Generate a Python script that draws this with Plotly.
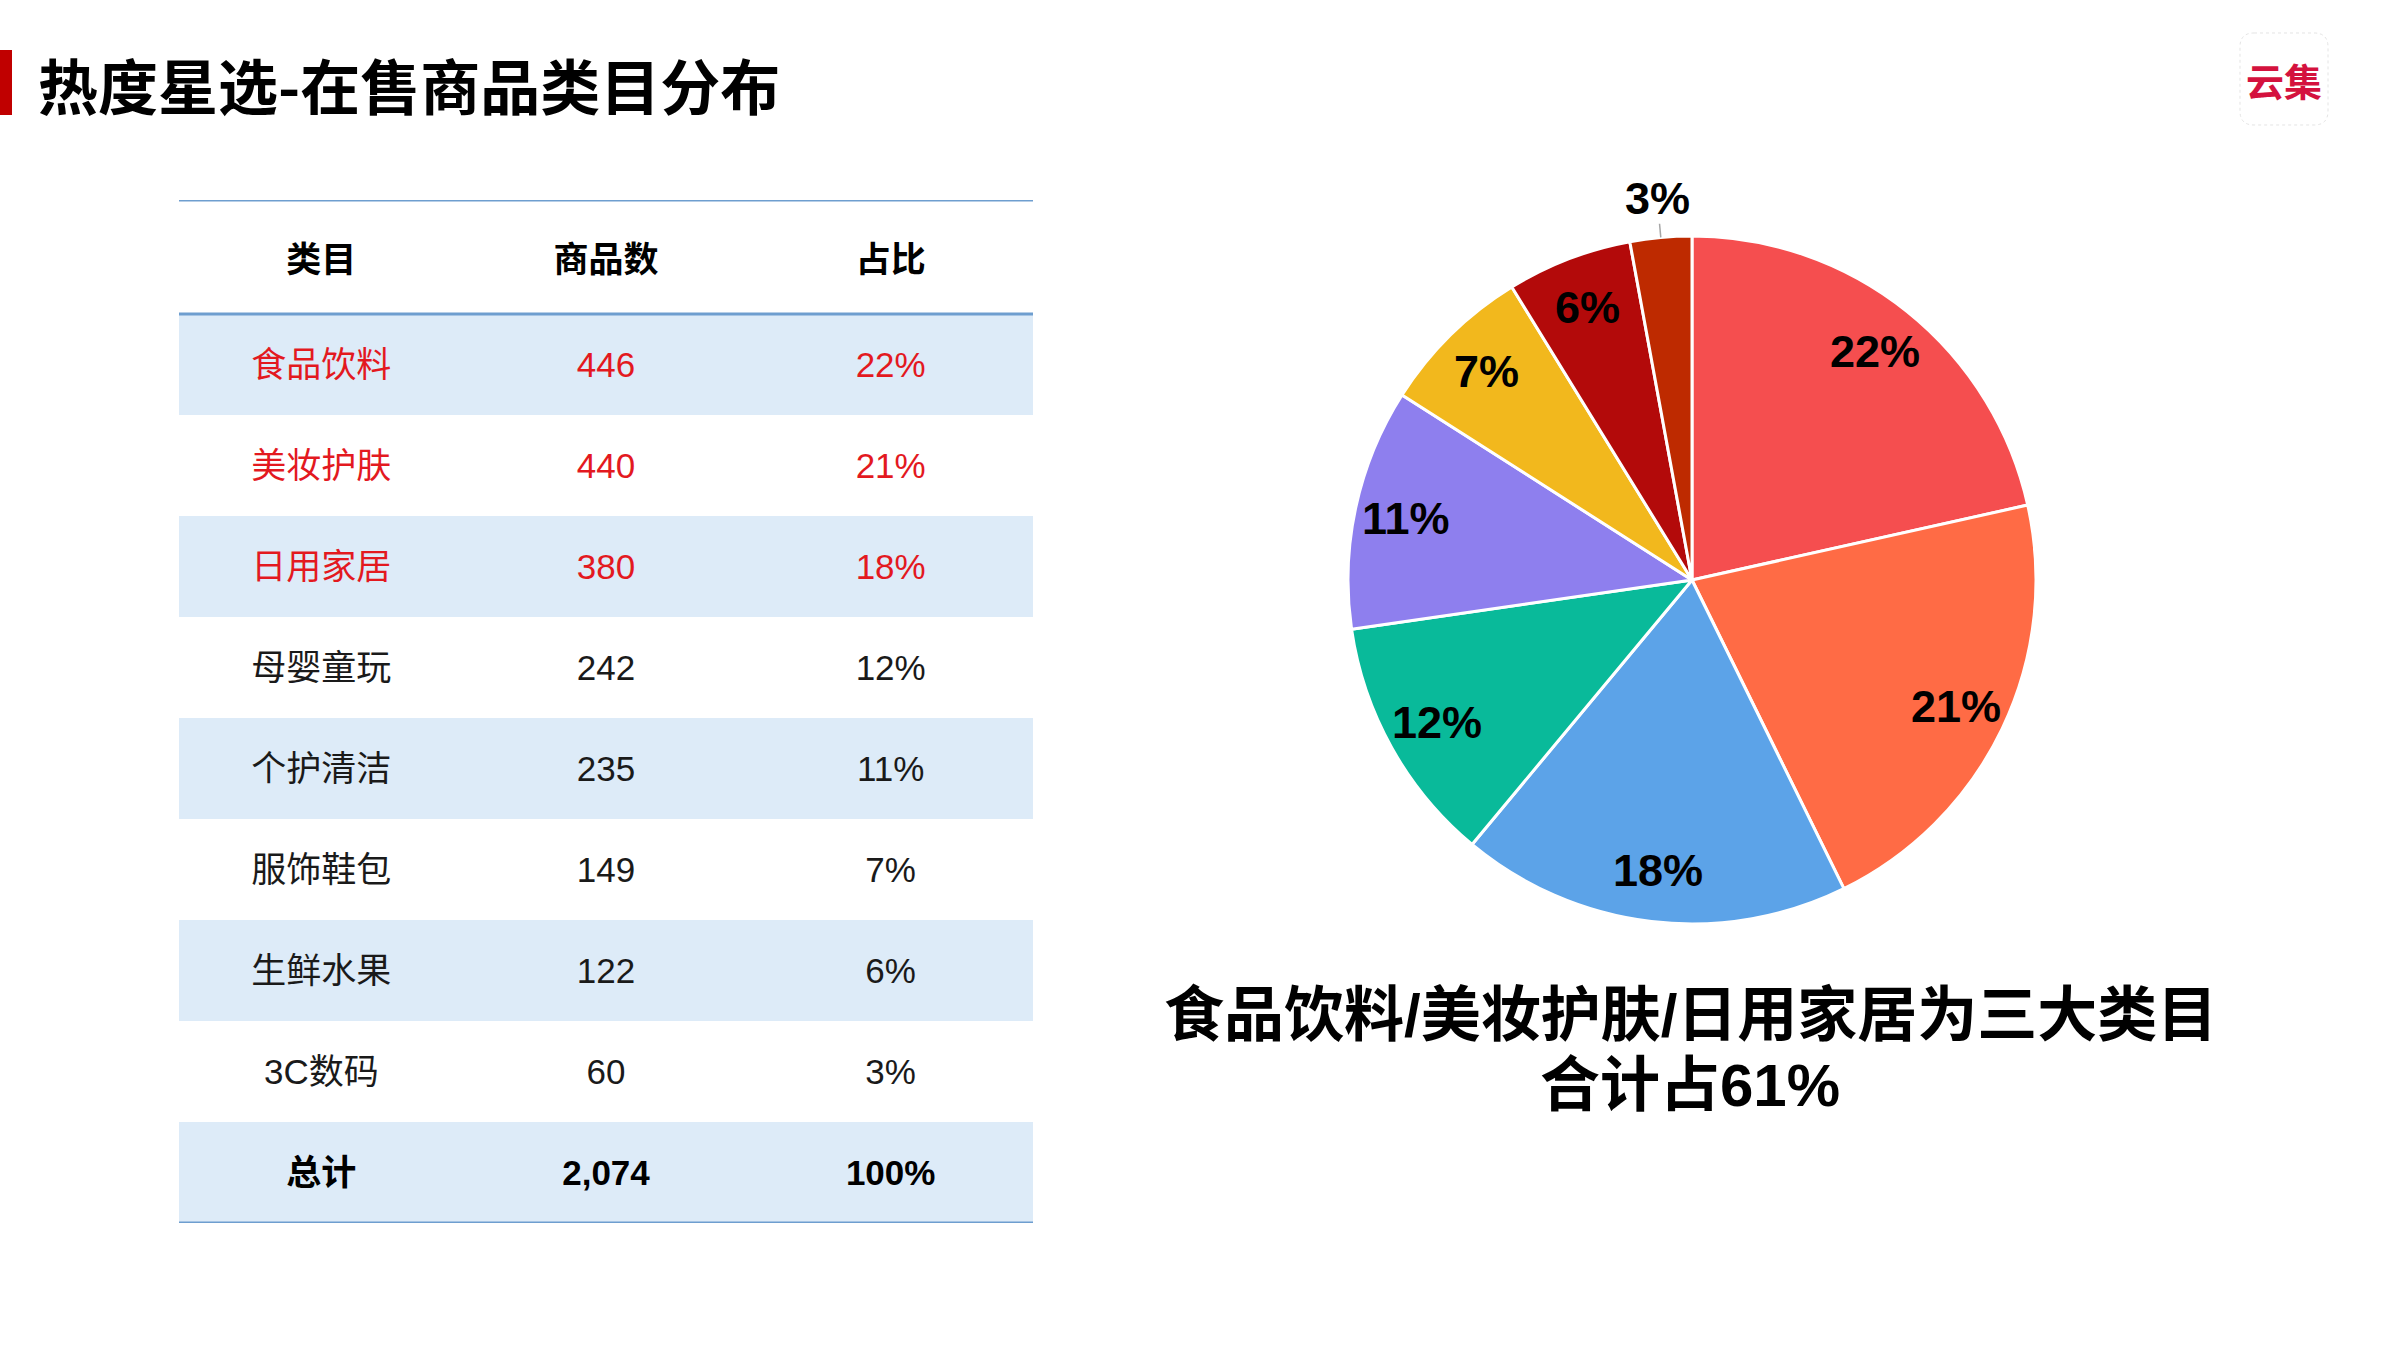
import numpy as np
import plotly.graph_objects as go

# ---------------- data ----------------
title_text = "热度星选-在售商品类目分布"
headers = ["类目", "商品数", "占比"]
categories = ["食品饮料", "美妆护肤", "日用家居", "母婴童玩", "个护清洁", "服饰鞋包", "生鲜水果", "3C数码"]
counts = [446, 440, 380, 242, 235, 149, 122, 60]
shares = ["22%", "21%", "18%", "12%", "11%", "7%", "6%", "3%"]
total_row = ["总计", "2,074", "100%"]
top_n = 3
slice_colors = ["#F54E4F", "#FF6B45", "#5CA3E8", "#09BA9A", "#8E7FEE", "#F2B81D", "#B30A0A", "#BE2A00"]
summary_lines = ["食品饮料/美妆护肤/日用家居为三大类目", "合计占61%"]
logo_text = "云集"

# ---------------- page geometry ----------------
W, H = 2400, 1350
def px(x):
    return x / W
def py(y):
    return 1 - y / H

LATIN_CJK = "Liberation Sans, Arial, Noto Sans CJK SC, sans-serif"
CJK = "Noto Sans CJK SC, Liberation Sans, sans-serif"

fig = go.Figure()

# ---------------- table (hidden axes x / y) ----------------
TX0, TX1, TY0 = 179, 1033, 200
HEADER_H, ROW_H = 114, 101
n_rows = len(categories) + 1
TY1 = TY0 + HEADER_H + ROW_H * n_rows
hdr = HEADER_H / ROW_H
hdr_nudge = 6 / ROW_H   # small optical nudges for text baseline
row_nudge = 4 / ROW_H

rows = [[c, str(v), s] for c, v, s in zip(categories, counts, shares)]
tx, ty, tt, tc = [], [], [], []
for j, h in enumerate(headers):
    tx.append(j + 0.5); ty.append(-hdr / 2 + hdr_nudge); tt.append(f"<b>{h}</b>"); tc.append("#000000")
for i, r in enumerate(rows):
    col = "#E3191F" if i < top_n else "#1a1a1a"
    for j, v in enumerate(r):
        tx.append(j + 0.5); ty.append(i + 0.5 + row_nudge); tt.append(v); tc.append(col)
for j, v in enumerate(total_row):
    tx.append(j + 0.5); ty.append(len(rows) + 0.5 + row_nudge); tt.append(f"<b>{v}</b>"); tc.append("#000000")

fig.add_trace(go.Scatter(
    x=tx, y=ty, text=tt, mode="text", textposition="middle center",
    textfont=dict(size=35, color=tc, family=LATIN_CJK),
    hoverinfo="skip", showlegend=False, xaxis="x", yaxis="y"))

shapes = []
for i in range(n_rows):
    if i % 2 == 0:
        shapes.append(dict(type="rect", xref="x", yref="y", x0=0, x1=3, y0=i, y1=i + 1,
                           fillcolor="#DDEBF8", line=dict(width=0), layer="below"))
for yl in [-hdr, 0, n_rows]:
    shapes.append(dict(type="line", xref="x", yref="y", x0=0, x1=3, y0=yl, y1=yl,
                       line=dict(color="#6E9ECF", width=3), layer="above"))

# ---------------- pie ----------------
PCX, PCY, PR = 1692, 580, 344
fig.add_trace(go.Pie(
    values=counts, labels=categories, sort=False, direction="clockwise", rotation=0,
    marker=dict(colors=slice_colors, line=dict(color="#FFFFFF", width=3)),
    textinfo="none", hoverinfo="label+value+percent", showlegend=False,
    domain=dict(x=[px(PCX - PR), px(PCX + PR)], y=[py(PCY + PR), py(PCY - PR)])))

# labels placed on a hidden axis pair (unit = pie radius) overlaying the pie
EXT = 1.25
vals = np.array(counts, dtype=float)
frac = vals / vals.sum()
mid = (np.cumsum(frac) - frac / 2) * 2 * np.pi
annotations = []
for k, (m, s) in enumerate(zip(mid, shares)):
    outside = frac[k] <= 0.04
    r = 1.115 if outside else 0.85
    annotations.append(dict(x=r * np.sin(m), y=r * np.cos(m), xref="x2", yref="y2",
                            text=f"<b>{s}</b>", showarrow=False,
                            font=dict(size=45, color="#000000", family=LATIN_CJK),
                            xanchor="center", yanchor="middle"))
    if outside:
        shapes.append(dict(type="line", xref="x2", yref="y2",
                           x0=1.0 * np.sin(m), y0=1.0 * np.cos(m),
                           x1=1.04 * np.sin(m), y1=1.04 * np.cos(m),
                           line=dict(color="#A6A6A6", width=1.5), layer="above"))

# ---------------- title, logo, summary ----------------
shapes.append(dict(type="rect", xref="paper", yref="paper", x0=0, x1=px(12), y0=py(115), y1=py(50),
                   fillcolor="#C00000", line=dict(width=0)))
annotations.append(dict(x=px(36), y=py(84), xref="paper", yref="paper", text=f"<b>{title_text}</b>",
                        showarrow=False, xanchor="left", yanchor="middle",
                        font=dict(size=60, color="#000000", family=CJK)))

# logo rounded square
lx0, lx1, ly0, ly1, rr = 2240, 2328, 33, 125, 14
def P(x, y):
    return f"{px(x):.5f},{py(y):.5f}"
path = (f"M {P(lx0+rr, ly0)} L {P(lx1-rr, ly0)} Q {P(lx1, ly0)} {P(lx1, ly0+rr)} "
        f"L {P(lx1, ly1-rr)} Q {P(lx1, ly1)} {P(lx1-rr, ly1)} L {P(lx0+rr, ly1)} "
        f"Q {P(lx0, ly1)} {P(lx0, ly1-rr)} L {P(lx0, ly0+rr)} Q {P(lx0, ly0)} {P(lx0+rr, ly0)} Z")
shapes.append(dict(type="path", xref="paper", yref="paper", path=path,
                   line=dict(color="#E4E4E4", width=1, dash="dot"), fillcolor="rgba(0,0,0,0)"))
annotations.append(dict(x=px(2284), y=py(79), xref="paper", yref="paper", text=f"<b>{logo_text}</b>",
                        showarrow=False, xanchor="center", yanchor="middle",
                        font=dict(size=38, color="#D4123E", family=CJK)))

for yy, line in zip([1015, 1085], summary_lines):
    annotations.append(dict(x=px(1690), y=py(yy), xref="paper", yref="paper", text=f"<b>{line}</b>",
                            showarrow=False, xanchor="center", yanchor="middle",
                            font=dict(size=60, color="#000000", family=LATIN_CJK)))

ER = PR * EXT
fig.update_layout(
    width=W, height=H, margin=dict(l=0, r=0, t=0, b=0),
    paper_bgcolor="#FFFFFF", plot_bgcolor="rgba(0,0,0,0)",
    xaxis=dict(domain=[px(TX0), px(TX1)], range=[0, 3], visible=False, fixedrange=True),
    yaxis=dict(domain=[py(TY1), py(TY0)], range=[n_rows, -hdr], visible=False, fixedrange=True),
    xaxis2=dict(domain=[px(PCX - ER), px(PCX + ER)], range=[-EXT, EXT], visible=False,
                anchor="y2", fixedrange=True),
    yaxis2=dict(domain=[py(PCY + ER), py(PCY - ER)], range=[-EXT, EXT], visible=False,
                anchor="x2", fixedrange=True),
    shapes=shapes, annotations=annotations, showlegend=False,
)

fig.write_html("out.html", config={"displayModeBar": False},
               post_script="document.body.style.margin='0';document.body.style.overflow='hidden';")
